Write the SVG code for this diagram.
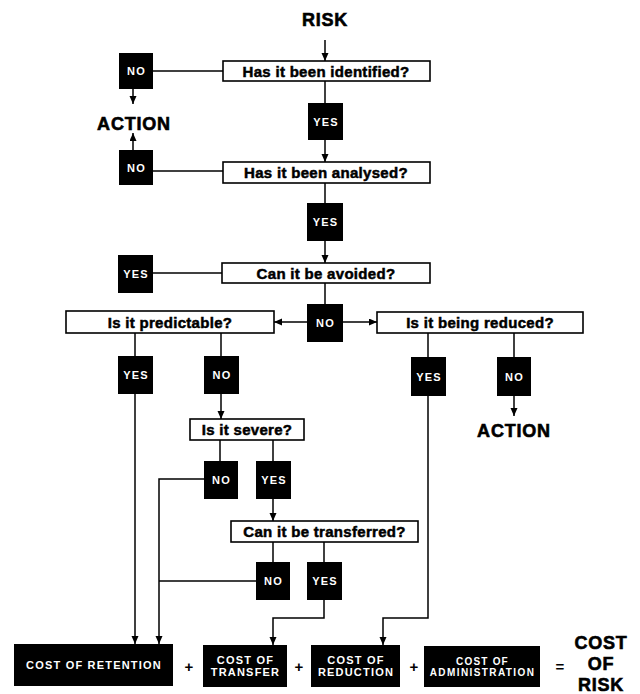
<svg xmlns="http://www.w3.org/2000/svg" width="640" height="694" viewBox="0 0 640 694">
<defs>
<marker id="ah" markerUnits="userSpaceOnUse" markerWidth="8" markerHeight="8" refX="8" refY="3.5" orient="auto">
<path d="M0,0 L8,3.5 L0,7 z" fill="#000"/>
</marker>
<style>
.q rect{fill:#fff;stroke:#000;stroke-width:1.6}
.q text{font-family:"Liberation Sans",Arial,sans-serif;font-weight:bold;font-size:15px;fill:#000;stroke:#000;stroke-width:0.5;text-anchor:middle;letter-spacing:0.3px}
.b rect{fill:#000}
.b text{font-family:"Liberation Sans",Arial,sans-serif;font-weight:bold;font-size:11px;fill:#fff;text-anchor:middle;letter-spacing:1.2px}
.big{font-family:"Liberation Sans",Arial,sans-serif;font-weight:bold;font-size:18px;fill:#000;stroke:#000;stroke-width:0.6;text-anchor:middle;letter-spacing:0.8px}
.op{font-family:"Liberation Sans",Arial,sans-serif;font-weight:bold;font-size:15px;fill:#000;text-anchor:middle}
#connectors line,#connectors polyline{stroke:#000;stroke-width:1.5;fill:none}
.arr{marker-end:url(#ah)}
</style>
</defs>
<rect width="640" height="694" fill="#fff"/>

<g id="connectors">
<line class="arr" x1="325" y1="40" x2="325" y2="61"/>
<line x1="153" y1="71" x2="223" y2="71"/>
<line class="arr" x1="133" y1="89" x2="133" y2="104"/>
<line class="arr" x1="133" y1="150" x2="133" y2="133"/>
<line x1="153" y1="171" x2="223" y2="171"/>
<line x1="325" y1="81" x2="325" y2="103"/>
<line class="arr" x1="325" y1="140" x2="325" y2="162"/>
<line x1="325" y1="183" x2="325" y2="203"/>
<line class="arr" x1="325" y1="241" x2="325" y2="263"/>
<line x1="153" y1="273" x2="222" y2="273"/>
<line x1="325" y1="283" x2="325" y2="304"/>
<line class="arr" x1="307" y1="322" x2="274" y2="322"/>
<line class="arr" x1="343" y1="322" x2="377" y2="322"/>
<line x1="135" y1="333" x2="135" y2="356"/>
<line x1="221" y1="333" x2="221" y2="356"/>
<line class="arr" x1="135" y1="394" x2="135" y2="644"/>
<line class="arr" x1="221" y1="394" x2="221" y2="419"/>
<line x1="220" y1="440" x2="220" y2="461"/>
<line x1="273" y1="440" x2="273" y2="461"/>
<polyline class="arr" points="204,479 159,479 159,644"/>
<line class="arr" x1="273" y1="499" x2="273" y2="521"/>
<line x1="273" y1="542" x2="273" y2="562"/>
<line x1="324" y1="542" x2="324" y2="562"/>
<line x1="256" y1="581" x2="159" y2="581"/>
<polyline class="arr" points="324,600 324,618 273,618 273,645"/>
<line x1="428" y1="333" x2="428" y2="357"/>
<line x1="514" y1="333" x2="514" y2="357"/>
<line class="arr" x1="514" y1="396" x2="514" y2="416"/>
<polyline class="arr" points="428,396 428,618 383,618 383,645"/>
</g>

<text id="risk" class="big" x="325" y="26">RISK</text>
<text id="action1" class="big" x="134" y="130">ACTION</text>
<text id="action2" class="big" x="514" y="437">ACTION</text>

<g id="q-identified" class="q"><rect x="223" y="61" width="207" height="20"/><text x="326" y="76.5">Has it been identified?</text></g>
<g id="q-analysed" class="q"><rect x="223" y="162" width="207" height="21"/><text x="326" y="177.5">Has it been analysed?</text></g>
<g id="q-avoided" class="q"><rect x="222" y="263" width="208" height="20"/><text x="326" y="278.5">Can it be avoided?</text></g>
<g id="q-predictable" class="q"><rect x="66" y="311" width="208" height="22"/><text x="170" y="327.5">Is it predictable?</text></g>
<g id="q-reduced" class="q"><rect x="377" y="312" width="206" height="21"/><text x="480" y="327.5">Is it being reduced?</text></g>
<g id="q-severe" class="q"><rect x="190" y="419" width="114" height="21"/><text x="247" y="435">Is it severe?</text></g>
<g id="q-transferred" class="q"><rect x="231" y="521" width="187" height="21"/><text x="324.5" y="537">Can it be transferred?</text></g>

<g id="no-identified" class="b"><rect x="119" y="53" width="34" height="36"/><text x="136.5" y="75">NO</text></g>
<g id="no-analysed" class="b"><rect x="119" y="150" width="34" height="35"/><text x="136.5" y="171.5">NO</text></g>
<g id="yes-identified" class="b"><rect x="308" y="103" width="35" height="37"/><text x="326" y="125.5">YES</text></g>
<g id="yes-analysed" class="b"><rect x="307" y="203" width="36" height="38"/><text x="325.5" y="226">YES</text></g>
<g id="yes-avoided" class="b"><rect x="118" y="255" width="35" height="38"/><text x="136" y="278">YES</text></g>
<g id="no-avoided" class="b"><rect x="307" y="304" width="36" height="38"/><text x="325.5" y="327">NO</text></g>
<g id="yes-predictable" class="b"><rect x="118" y="356" width="35" height="38"/><text x="136" y="379">YES</text></g>
<g id="no-predictable" class="b"><rect x="204" y="356" width="35" height="38"/><text x="222" y="379">NO</text></g>
<g id="yes-reduced" class="b"><rect x="411" y="357" width="35" height="39"/><text x="429" y="380.5">YES</text></g>
<g id="no-reduced" class="b"><rect x="497" y="357" width="34" height="39"/><text x="514.5" y="380.5">NO</text></g>
<g id="no-severe" class="b"><rect x="204" y="461" width="34" height="38"/><text x="221.5" y="484">NO</text></g>
<g id="yes-severe" class="b"><rect x="256" y="461" width="35" height="38"/><text x="274" y="484">YES</text></g>
<g id="no-transferred" class="b"><rect x="256" y="562" width="34" height="38"/><text x="273.5" y="585">NO</text></g>
<g id="yes-transferred" class="b"><rect x="307" y="562" width="35" height="38"/><text x="325" y="585">YES</text></g>

<g id="cost-retention" class="b"><rect x="14" y="644" width="159" height="42"/><text x="94" y="669">COST OF RETENTION</text></g>
<g id="cost-transfer" class="b"><rect x="203" y="645" width="84" height="42"/><text x="245.5" y="664">COST OF</text><text x="245.5" y="676">TRANSFER</text></g>
<g id="cost-reduction" class="b"><rect x="311" y="645" width="89" height="42"/><text x="356" y="664">COST OF</text><text x="356" y="676">REDUCTION</text></g>
<g id="cost-administration" class="b"><rect x="424" y="646" width="116" height="41"/><text x="482.5" y="665" style="font-size:10px">COST OF</text><text x="482.5" y="676" style="font-size:10px;letter-spacing:1.4px">ADMINISTRATION</text></g>

<text class="op" x="189" y="672">+</text>
<text class="op" x="299" y="672">+</text>
<text class="op" x="414" y="672">+</text>
<text class="op" x="560" y="672">=</text>

<g id="cost-of-risk">
<text class="big" x="601" y="649">COST</text>
<text class="big" x="601" y="670">OF</text>
<text class="big" x="601" y="691">RISK</text>
</g>
</svg>
